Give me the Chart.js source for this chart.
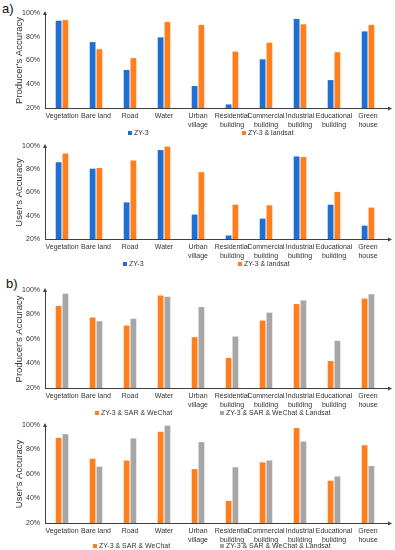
<!DOCTYPE html>
<html><head><meta charset="utf-8">
<script src="https://cdn.jsdelivr.net/npm/chart.js@4/dist/chart.umd.min.js"></script>
<style>
html,body{margin:0;padding:0;background:#fff;}
body{width:395px;height:550px;position:relative;overflow:hidden;font-family:"Liberation Sans",Arial,sans-serif;}
canvas{position:absolute;left:0;}
.lg{position:absolute;font-size:7px;line-height:8px;color:#333;white-space:nowrap;}
.lg i{display:inline-block;width:4px;height:4px;margin-right:2px;vertical-align:0px;}
.lab{position:absolute;font-size:13px;color:#111;}
</style></head><body>
<div class="lab" style="left:2px;top:1px;">a)</div>
<div class="lab" style="left:6px;top:276px;">b)</div>
<canvas id="c1" width="395" height="140" style="top:0px"></canvas>
<canvas id="c2" width="395" height="138" style="top:133px"></canvas>
<canvas id="c3" width="395" height="143" style="top:277px"></canvas>
<canvas id="c4" width="395" height="143" style="top:412px"></canvas>
<div class="lg" style="left:128px;top:129px;"><i style="background:#1f6ed4"></i>ZY-3</div>
<div class="lg" style="left:242px;top:129px;"><i style="background:#ff7f1e"></i>ZY-3 &amp; landsat</div>
<div class="lg" style="left:123px;top:260px;"><i style="background:#1f6ed4"></i>ZY-3</div>
<div class="lg" style="left:238px;top:260px;"><i style="background:#ff7f1e"></i>ZY-3 &amp; landsat</div>
<div class="lg" style="left:95px;top:409px;"><i style="background:#ff7f1e"></i>ZY-3 &amp; SAR &amp; WeChat</div>
<div class="lg" style="left:220px;top:409px;"><i style="background:#a6a6a6"></i>ZY-3 &amp; SAR &amp; WeChat &amp; Landsat</div>
<div class="lg" style="left:93px;top:542px;"><i style="background:#ff7f1e"></i>ZY-3 &amp; SAR &amp; WeChat</div>
<div class="lg" style="left:220px;top:542px;"><i style="background:#a6a6a6"></i>ZY-3 &amp; SAR &amp; WeChat &amp; Landsat</div>
<script>
const categories = ['Vegetation','Bare land','Road','Water',['Urban','village'],['Residential','building'],['Commercial','building'],['Industrial','building'],['Educational','building'],['Green','house']];
const yTicks = [20, 40, 60, 80, 100];

const paZY3  = [93.5, 75.5, 52, 79.5, 38.5, 23, 61, 95, 43.5, 84.5];
const paZY3L = [94, 69.5, 62, 92.5, 90, 67.5, 75, 90.5, 67, 90];
const uaZY3  = [86, 80.5, 51.5, 96.5, 41, 23, 37.5, 91, 49.5, 31.5];
const uaZY3L = [93.5, 81, 87.5, 99.5, 77.5, 49.5, 49, 90.5, 60.5, 47];
const paSW   = [87, 77.5, 71, 95.5, 61.5, 44.5, 75, 88.5, 42, 93];
const paSWL  = [97, 74.5, 76.5, 94.5, 86, 62, 81.5, 91.5, 58.5, 96.5];
const uaSW   = [89.5, 72.5, 71, 94.5, 64, 38, 69.5, 97.5, 54.5, 83.5];
const uaSWL  = [92.5, 66, 89, 99.5, 86, 65.5, 71, 86.5, 58, 66.5];

const BLUE = '#1f6ed4', ORANGE = '#ff7f1e', GRAY = '#a6a6a6';
const AXIS = '#404040';

const arrows = {
  id: 'arrows',
  afterDraw(chart) {
    const {ctx, chartArea: a} = chart;
    ctx.save();
    ctx.fillStyle = AXIS;
    ctx.beginPath();
    ctx.moveTo(a.left, a.top - 2);
    ctx.lineTo(a.left - 2, a.top + 2);
    ctx.lineTo(a.left + 2, a.top + 2);
    ctx.closePath(); ctx.fill();
    ctx.strokeStyle = AXIS; ctx.lineWidth = 1;
    ctx.beginPath(); ctx.moveTo(a.right, a.bottom + 0.5); ctx.lineTo(a.right + 4, a.bottom + 0.5); ctx.stroke();
    ctx.beginPath();
    ctx.moveTo(a.right + 7, a.bottom + 0.5);
    ctx.lineTo(a.right + 3, a.bottom - 1.5);
    ctx.lineTo(a.right + 3, a.bottom + 2.5);
    ctx.closePath(); ctx.fill();
    ctx.restore();
  }
};

function makeChart(id, title, d1, d2, c1, c2) {
  const font = {family: '"Liberation Sans", Arial, sans-serif'};
  return new Chart(document.getElementById(id), {
    type: 'bar',
    data: {
      labels: categories,
      datasets: [
        {data: d1, backgroundColor: c1, barPercentage: 0.85, categoryPercentage: 0.4},
        {data: d2, backgroundColor: c2, barPercentage: 0.85, categoryPercentage: 0.4}
      ]
    },
    options: {
      responsive: false, animation: false, devicePixelRatio: 1,
      layout: {padding: {top: 13, right: 10, left: 0, bottom: 10}},
      plugins: {legend: {display: false}, tooltip: {enabled: false}},
      scales: {
        x: {
          grid: {display: false, drawTicks: false},
          border: {display: true, color: AXIS, width: 1},
          ticks: {font: {...font, size: 7}, color: '#333', maxRotation: 0, autoSkip: false, padding: 4},
          afterFit: s => { s.height = 22; }
        },
        y: {
          min: 20, max: 100,
          afterBuildTicks: s => { s.ticks = yTicks.map(v => ({value: v})); },
          grid: {display: false, drawTicks: false},
          border: {display: true, color: AXIS, width: 1},
          ticks: {font: {...font, size: 7}, color: '#333', padding: 5, callback: v => v + '%'},
          title: {display: true, text: title, font: {...font, size: 9.5}, color: '#333', padding: {top: 14, bottom: 0}},
          afterFit: s => { s.width = 45; }
        }
      }
    },
    plugins: [arrows]
  });
}

makeChart('c1', "Producer's Accuracy", paZY3, paZY3L, BLUE, ORANGE);
makeChart('c2', "User's Accuracy", uaZY3, uaZY3L, BLUE, ORANGE);
makeChart('c3', "Producer's Accuracy", paSW, paSWL, ORANGE, GRAY);
makeChart('c4', "User's Accuracy", uaSW, uaSWL, ORANGE, GRAY);
</script>
</body></html>
